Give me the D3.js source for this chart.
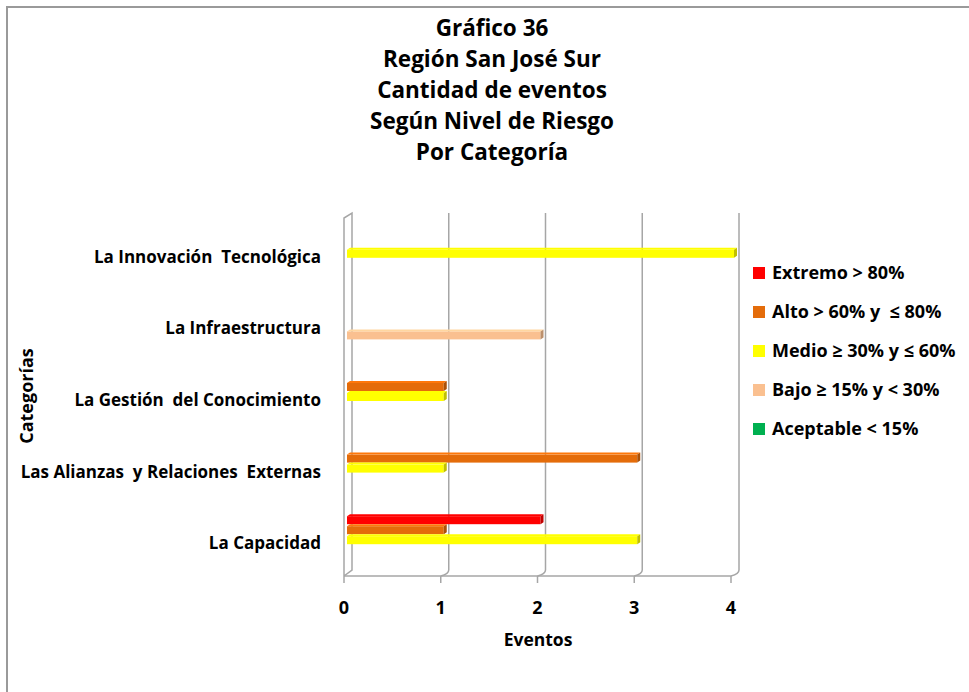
<!DOCTYPE html>
<html>
<head>
<meta charset="utf-8">
<script src="https://cdn.jsdelivr.net/npm/d3@7"></script>
<style>
	body { margin: 0; background: #fff; }
	svg text { font-family: "Open Sans", Lato, sans-serif; font-weight: bold; fill: #000; white-space: pre; }
</style>
</head>
<body>
<svg id="chart" width="969" height="692"></svg>
<script>
// categories, bottom to top as in the picture
var categories = ['La Capacidad', 'Las Alianzas  y Relaciones  Externas', 'La Gestión  del Conocimiento', 'La Infraestructura', 'La Innovación  Tecnológica'];
var seriesNames = ['Extremo > 80%', 'Alto > 60% y  ≤ 80%', 'Medio ≥ 30% y ≤ 60%', 'Bajo ≥ 15% y < 30%', 'Aceptable < 15%'];
var seriesColors = ['#ff0000', '#e46c0a', '#ffff00', '#fac090', '#00b050'];
var extremo = [2, 0, 0, 0, 0];
var alto = [1, 3, 1, 0, 0];
var medio = [3, 1, 1, 0, 4];
var bajo = [0, 0, 0, 2, 0];
var aceptable = [0, 0, 0, 0, 0];
var xTicks = [0, 1, 2, 3, 4];
var titleLines = ['Gráfico 36', 'Región San José Sur', 'Cantidad de eventos', 'Según Nivel de Riesgo', 'Por Categoría'];

var values = [extremo, alto, medio, bajo, aceptable];

var svg = d3.select('#chart');

// outer frame (runs off the right and bottom edges)
svg.append('rect')
	.attr('x', 7).attr('y', 7)
	.attr('width', 980).attr('height', 700)
	.attr('fill', 'none')
	.attr('stroke', '#9a9a9a')
	.attr('stroke-width', 2);

// title
svg.append('g').selectAll('text')
	.data(titleLines)
	.enter()
	.append('text')
	.attr('x', 492)
	.attr('y', function(d, i){ return 36 + i * 31; })
	.attr('text-anchor', 'middle')
	.style('font-size', '22.5px')
	.text(function(d){ return d; });

var floorY = 576, topY = 213, depthX = 8, depthY = 6;

var x = d3.scaleLinear().domain([0, 4]).range([344, 731]);
var y = d3.scaleBand().domain(categories.slice().reverse()).range([221, 579]);
var inner = d3.scaleBand().domain(seriesNames).range([-29, 21]);

var grid = svg.append('g')
	.attr('fill', 'none')
	.attr('stroke', '#a6a6a6')
	.attr('stroke-width', 1.5);

// back gridlines bending to the floor front edge
grid.selectAll('path.grid')
	.data(xTicks.slice(1))
	.enter()
	.append('path')
	.attr('class', 'grid')
	.attr('d', function(t){
		var xb = x(t) + depthX;
		return 'M' + xb + ',' + topY + 'V' + (floorY - depthY) +
			'Q' + xb + ',' + (floorY - 2) + ' ' + x(t) + ',' + floorY;
	});

// left wall
grid.append('path')
	.attr('d', 'M' + x(0) + ',' + floorY + 'V' + (topY + 5) + 'L' + (x(0) + depthX) + ',' + topY +
		'V' + (floorY - depthY) + 'L' + x(0) + ',' + floorY);

// floor front edge and ticks
grid.append('path')
	.attr('d', 'M' + x(0) + ',' + floorY + 'H' + x(4));

grid.selectAll('line.tick')
	.data(xTicks)
	.enter()
	.append('line')
	.attr('class', 'tick')
	.attr('x1', function(t){ return x(t); })
	.attr('x2', function(t){ return x(t); })
	.attr('y1', floorY)
	.attr('y2', floorY + 7);

svg.append('g').selectAll('text')
	.data(xTicks)
	.enter()
	.append('text')
	.attr('x', function(t){ return x(t); })
	.attr('y', 614)
	.attr('text-anchor', 'middle')
	.style('font-size', '18px')
	.text(function(t){ return t; });

// bars
var bars = [];
values.forEach(function(vals, s){
	vals.forEach(function(v, c){
		if (v > 0) bars.push({ s: s, c: c, v: v });
	});
});

var barLayer = svg.append('g');
var off = 3, h = 2;

var barG = barLayer.selectAll('g')
	.data(bars)
	.enter()
	.append('g');

function y0(d){ return y(categories[d.c]) + y.bandwidth() / 2 + inner(seriesNames[d.s]); }

barG.append('rect')
	.attr('x', function(d){ return x(0) + off; })
	.attr('y', function(d){ return y0(d) + h; })
	.attr('width', function(d){ return x(d.v) - x(0); })
	.attr('height', inner.bandwidth() - h)
	.attr('fill', function(d){ return seriesColors[d.s]; });

barG.append('path')
	.attr('d', function(d){
		var a = x(0) + off, b = x(d.v) + off, t = y0(d);
		return 'M' + a + ',' + (t + h) + 'L' + (a + off) + ',' + t + 'H' + (b + off) + 'L' + b + ',' + (t + h) + 'Z';
	})
	.attr('fill', function(d){ return d3.color(seriesColors[d.s]).brighter(0.3); });

barG.append('path')
	.attr('d', function(d){
		var b = x(d.v) + off, t = y0(d), bw = inner.bandwidth();
		return 'M' + b + ',' + (t + h) + 'L' + (b + off) + ',' + t + 'V' + (t + bw - h) + 'L' + b + ',' + (t + bw) + 'Z';
	})
	.attr('fill', function(d){ return d3.color(seriesColors[d.s]).darker(0.8); });

// category labels
svg.append('g').selectAll('text')
	.data(categories)
	.enter()
	.append('text')
	.attr('x', 321)
	.attr('y', function(c){ return y(c) + y.bandwidth() / 2 + 6; })
	.attr('text-anchor', 'end')
	.style('font-size', '17px')
	.text(function(c){ return c; });

// axis titles
svg.append('text')
	.attr('x', 538).attr('y', 646)
	.attr('text-anchor', 'middle')
	.style('font-size', '17.5px')
	.text('Eventos');

svg.append('text')
	.attr('transform', 'translate(33,396) rotate(-90)')
	.attr('text-anchor', 'middle')
	.style('font-size', '18px')
	.text('Categorías');

// legend
var legend = svg.append('g').selectAll('g')
	.data(seriesNames)
	.enter()
	.append('g')
	.attr('transform', function(d, i){ return 'translate(753,' + (267 + i * 39) + ')'; });

legend.append('rect')
	.attr('width', 12).attr('height', 12)
	.attr('fill', function(d, i){ return seriesColors[i]; });

legend.append('text')
	.attr('x', 19).attr('y', 12)
	.style('font-size', '18px')
	.text(function(d){ return d; });
</script>
</body>
</html>
